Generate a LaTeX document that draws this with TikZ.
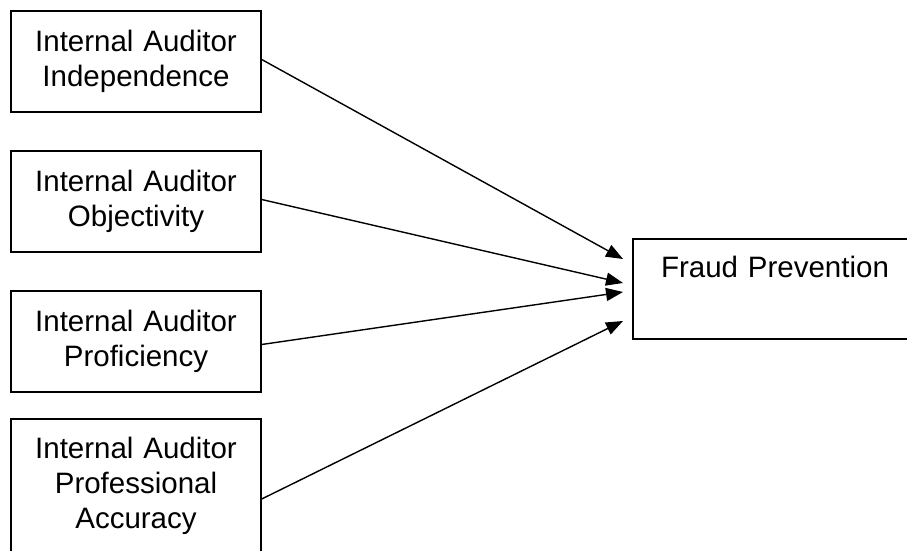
\documentclass[tikz,border=0pt]{standalone}
\usepackage{fontspec}
\setmainfont{Liberation Sans}
\usetikzlibrary{arrows.meta}

\tikzset{
  factor/.style={draw, line width=1.4pt, minimum width=250pt, minimum height=101pt,
    text width=244pt, align=center, inner sep=3pt,
    font=\fontsize{29.5}{35}\selectfont},
  outcome/.style={draw, line width=1.4pt, minimum width=284pt, inner xsep=3pt,
    inner ysep=17pt, text depth=45pt, text width=278pt, align=center,
    font=\fontsize{29.5}{35}\selectfont}
}

\begin{document}
\begin{tikzpicture}[x=1pt,y=-1pt,->,>={Triangle[length=17pt,width=13pt]},line width=1.4pt]
        \useasboundingbox (0,0) rectangle (907,551);
        \clip (0,0) rectangle (907,551);
        \node[factor] (ind) at (136,61.5) {Internal Auditor\\Independence};
        \node[factor] (obj) at (136,201.5) {Internal Auditor\\Objectivity};
        \node[factor] (prof) at (136,341.5) {Internal Auditor\\Proficiency};
        \node[factor, minimum height=134pt] (acc) at (136,486) {Internal Auditor\\Professional\\Accuracy};
        \node[outcome] (fraud) at (775,289) {Fraud Prevention};
        \coordinate (t1) at (623,259);
        \coordinate (t2) at (623,283);
        \coordinate (t3) at (623,292);
        \coordinate (t4) at (623,321);
        \draw ([yshift=2pt]ind.east) -- (t1);
        \draw ([yshift=2pt]obj.east) -- (t2);
        \draw ([yshift=-3pt]prof.east) -- (t3);
        \draw ([yshift=-13pt]acc.east) -- (t4);
      \end{tikzpicture}
\end{document}
